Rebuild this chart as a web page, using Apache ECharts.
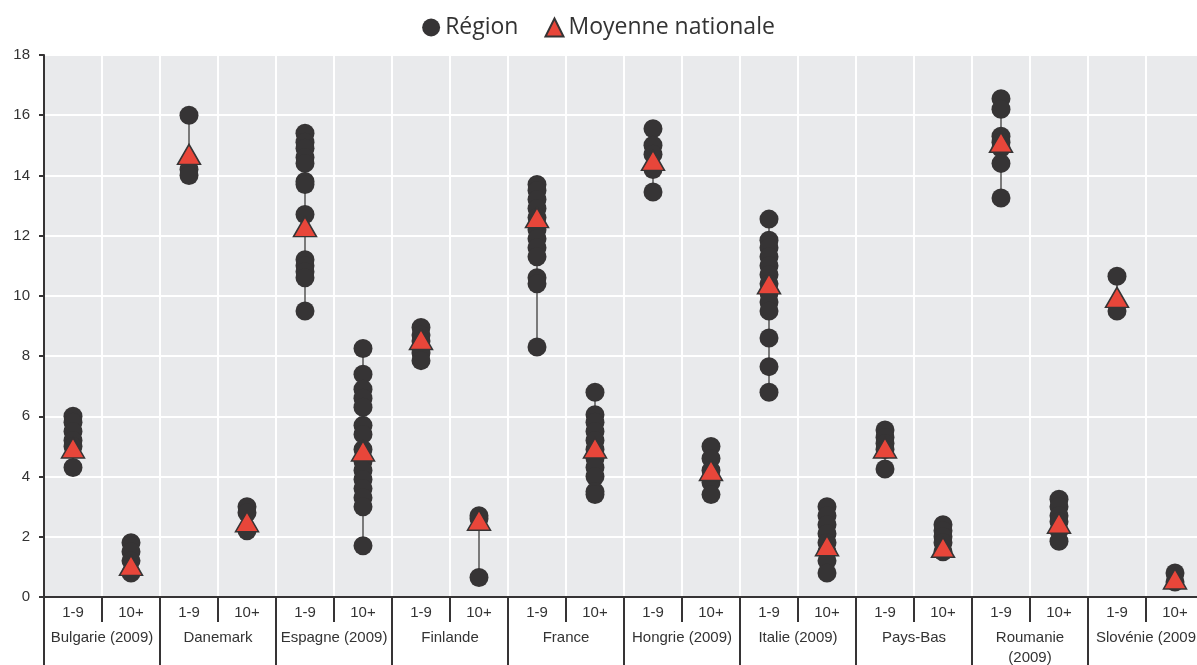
<!DOCTYPE html>
<html>
<head>
<meta charset="utf-8">
<script src="https://cdn.jsdelivr.net/npm/echarts@6/dist/echarts.min.js"></script>
<style>
  html, body { margin: 0; padding: 0; background: #ffffff; }
  #chart { width: 1197px; height: 665px; }
</style>
</head>
<body>
<div id="chart"></div>
<script>
// Countries (two size groups each) and the size-group tick labels
const countries = ['Bulgarie (2009)', 'Danemark', 'Espagne (2009)', 'Finlande', 'France',
  'Hongrie (2009)', 'Italie (2009)', 'Pays-Bas', 'Roumanie\n(2009)', 'Slovénie (2009'];
const sizeGroups = ['1-9', '10+'];

// Regional values, one list per country and size group (order: country, 1-9 then 10+)
const regionValues = [
  [6.0, 5.8, 5.5, 5.2, 5.0, 4.3],
  [1.8, 1.5, 1.2, 0.8],
  [16.0, 14.2, 14.0],
  [3.0, 2.8, 2.2],
  [15.4, 15.1, 14.9, 14.6, 14.4, 13.8, 13.7, 12.7, 11.2, 11.0, 10.8, 10.6, 9.5],
  [8.25, 7.4, 6.9, 6.6, 6.3, 5.7, 5.4, 4.9, 4.5, 4.2, 3.9, 3.6, 3.3, 3.0, 1.7],
  [8.95, 8.7, 8.5, 8.1, 7.85],
  [2.7, 2.6, 0.65],
  [13.7, 13.5, 13.2, 12.9, 12.6, 12.2, 11.9, 11.6, 11.3, 10.6, 10.4, 8.3],
  [6.8, 6.05, 5.8, 5.5, 5.2, 4.9, 4.6, 4.3, 4.0, 3.5, 3.4],
  [15.55, 15.0, 14.7, 14.2, 13.45],
  [5.0, 4.6, 4.2, 3.8, 3.4],
  [12.55, 11.85, 11.6, 11.3, 11.0, 10.7, 10.4, 10.1, 9.8, 9.5, 8.6, 7.65, 6.8],
  [3.0, 2.7, 2.4, 2.1, 1.8, 1.5, 1.2, 0.8],
  [5.55, 5.3, 5.1, 4.9, 4.25],
  [2.4, 2.2, 2.0, 1.8, 1.5],
  [16.55, 16.2, 15.3, 15.1, 14.9, 14.4, 13.25],
  [3.25, 3.0, 2.7, 2.5, 2.2, 1.85],
  [10.65, 9.5],
  [0.8, 0.5]
];

// National average per country and size group
const nationalAvg = [4.95, 1.05, 14.7, 2.5, 12.3, 4.85, 8.55, 2.55, 12.6, 4.95,
  14.5, 4.2, 10.4, 1.7, 4.95, 1.65, 15.1, 2.45, 9.95, 0.6];

// Y axis ticks
const yMin = 0, yMax = 18, yStep = 2;

const groupLabels = [];
countries.forEach(() => sizeGroups.forEach(g => groupLabels.push(g)));

const regionPoints = [];
const rangeData = [];
regionValues.forEach((vals, i) => {
  vals.forEach(v => regionPoints.push([i, v]));
  rangeData.push([i, Math.min(...vals), Math.max(...vals)]);
});
const avgPoints = nationalAvg.map((v, i) => [i, v]);

const dark = '#363435';
const axisFont = 'Liberation Sans, Arial, sans-serif';

const chart = echarts.init(document.getElementById('chart'));
chart.setOption({
  animation: false,
  legend: {
    top: 11,
    left: 'center',
    itemGap: 26,
    itemWidth: 18,
    itemHeight: 18,
    textStyle: { fontFamily: 'Open Sans, sans-serif', fontSize: 23, color: '#333' },
    data: [
      { name: 'Région', icon: 'circle' },
      { name: 'Moyenne nationale', icon: 'triangle' }
    ]
  },
  grid: {
    left: 44, right: -7, top: 55, bottom: 68,
    outerBoundsMode: 'none',
    containLabel: false,
    show: true, backgroundColor: '#e9eaec', borderWidth: 0
  },
  xAxis: [
    {
      type: 'category',
      data: groupLabels,
      boundaryGap: true,
      position: 'bottom',
      axisLine: { show: true, lineStyle: { color: dark, width: 2 } },
      axisTick: { show: true, length: 25, interval: 0, lineStyle: { color: dark, width: 2 } },
      axisLabel: { interval: 0, margin: 8, fontFamily: axisFont, fontSize: 15, color: '#333' },
      splitLine: { show: true, interval: 0, lineStyle: { color: '#ffffff', width: 2 } }
    },
    {
      type: 'category',
      data: countries,
      boundaryGap: true,
      position: 'bottom',
      axisLine: { show: false },
      axisTick: { show: true, length: 70, interval: 0, lineStyle: { color: dark, width: 2 } },
      axisLabel: { interval: 0, margin: 31, lineHeight: 20, fontFamily: axisFont, fontSize: 15, color: '#333', verticalAlign: 'top' },
      splitLine: { show: false }
    }
  ],
  yAxis: {
    type: 'value',
    min: yMin, max: yMax, interval: yStep,
    axisLine: { show: true, lineStyle: { color: dark, width: 2 } },
    axisTick: { show: true, length: 5, lineStyle: { color: dark, width: 2 } },
    axisLabel: { margin: 14, fontFamily: axisFont, fontSize: 15, color: '#333' },
    splitLine: { show: true, lineStyle: { color: '#ffffff', width: 2 } }
  },
  series: [
    {
      type: 'custom',
      name: 'range',
      xAxisIndex: 0,
      silent: true,
      z: 1,
      renderItem: function (params, api) {
        const x = api.value(0);
        const p1 = api.coord([x, api.value(1)]);
        const p2 = api.coord([x, api.value(2)]);
        return {
          type: 'line',
          shape: { x1: p1[0], y1: p1[1], x2: p2[0], y2: p2[1] },
          style: { stroke: '#555555', lineWidth: 1.5 }
        };
      },
      data: rangeData
    },
    {
      type: 'scatter',
      name: 'Région',
      xAxisIndex: 0,
      symbol: 'circle',
      symbolSize: 19,
      z: 2,
      itemStyle: { color: dark, opacity: 1 },
      data: regionPoints
    },
    {
      type: 'scatter',
      name: 'Moyenne nationale',
      xAxisIndex: 0,
      symbol: 'triangle',
      symbolSize: [23, 20],
      z: 3,
      itemStyle: { color: '#e8463a', borderColor: dark, borderWidth: 1.5, opacity: 1 },
      data: avgPoints
    }
  ]
});
</script>
</body>
</html>
